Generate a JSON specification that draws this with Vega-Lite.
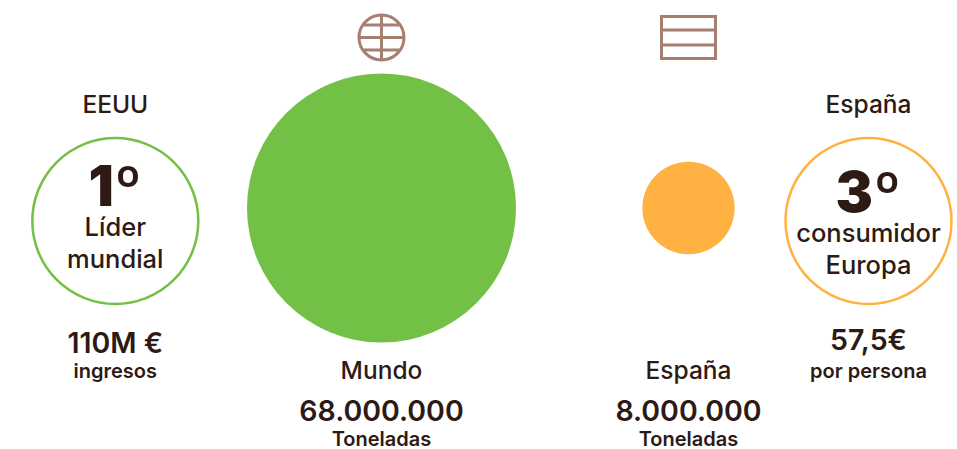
{
"$schema":"https://vega.github.io/schema/vega-lite/v6.json",
"width":957,"height":449,"autosize":{"type":"fit","contains":"padding"},"padding":0,
"background":"#ffffff",
"config":{"view":{"stroke":null},"text":{"font":"Inter","align":"center","baseline":"alphabetic","color":"#2E1A14"}},
"datasets":{
"circulos":[{"zona":"Mundo","columna":2,"fila":4,"toneladas":68000000},{"zona":"España","columna":3,"fila":4,"toneladas":8000000}],
"anillos":[{"zona":"EEUU","columna":1,"fila":6},{"zona":"España","columna":4,"fila":6}],
"iconos":[{"zona":"Mundo","columna":2,"fila":1},{"zona":"España","columna":3,"fila":1}],
"textos":[
{"rol":"titulo","columna":1,"fila":2,"texto":"EEUU"},
{"rol":"rango","columna":1,"fila":3,"texto":"1º"},
{"rol":"desc","columna":1,"fila":7,"texto":"Líder"},
{"rol":"desc","columna":1,"fila":9,"texto":"mundial"},
{"rol":"cifra","columna":1,"fila":12,"texto":"110M €"},
{"rol":"unidad","columna":1,"fila":13,"texto":"ingresos"},
{"rol":"titulo","columna":4,"fila":2,"texto":"España"},
{"rol":"rango","columna":4,"fila":5,"texto":"3º"},
{"rol":"desc","columna":4,"fila":8,"texto":"consumidor"},
{"rol":"desc","columna":4,"fila":10,"texto":"Europa"},
{"rol":"cifra","columna":4,"fila":11,"texto":"57,5€"},
{"rol":"unidad","columna":4,"fila":13,"texto":"por persona"},
{"rol":"titulo","columna":2,"fila":14,"texto":"Mundo"},
{"rol":"cifra","columna":2,"fila":15,"texto":"68.000.000"},
{"rol":"unidad","columna":2,"fila":16,"texto":"Toneladas"},
{"rol":"titulo","columna":3,"fila":14,"texto":"España"},
{"rol":"cifra","columna":3,"fila":15,"texto":"8.000.000"},
{"rol":"unidad","columna":3,"fila":16,"texto":"Toneladas"}
]},
"encoding":{
"x":{"field":"columna","type":"quantitative","axis":null,"scale":{"domain":[1,2,3,4],"range":[115.3,381.5,688.5,868.5]}},
"y":{"field":"fila","type":"quantitative","axis":null,"scale":{"domain":[1,2,3,4,5,6,7,8,9,10,11,12,13,14,15,16],"range":[37.5,113,206,208,212,221,236,242,268,274,350,353,377.5,379,420.5,446]}}
},
"layer":[
{"data":{"name":"circulos"},"mark":{"type":"point","filled":true,"opacity":1,"stroke":null},
 "encoding":{"size":{"field":"toneladas","type":"quantitative","legend":null,"scale":{"type":"linear","domain":[0,68000000],"range":[0,72361]}},
 "color":{"field":"zona","type":"nominal","legend":null,"scale":{"domain":["Mundo","España"],"range":["#72C045","#FFB141"]}}}},
{"data":{"name":"anillos"},"mark":{"type":"point","filled":false,"opacity":1,"strokeWidth":2.5,"size":27556},
 "encoding":{"stroke":{"field":"zona","type":"nominal","legend":null,"scale":{"domain":["EEUU","España"],"range":["#72C045","#FFB141"]}}}},
{"data":{"name":"iconos"},"transform":[{"filter":"datum.zona==='Mundo'"}],"mark":{"type":"point","filled":false,"opacity":1,"strokeWidth":3,"color":"#A67F71","size":2025,"shape":"M-1,0A1,1 0 1,1 1,0A1,1 0 1,1 -1,0ZM0,-1L0,1M-1,0L1,0M-.831,-.556L.831,-.556M-.831,.556L.831,.556"}},
{"data":{"name":"iconos"},"transform":[{"filter":"datum.zona==='España'"}],"mark":{"type":"point","filled":false,"opacity":1,"strokeWidth":3,"color":"#A67F71","size":2916,"shape":"M-1,-.778L1,-.778L1,.778L-1,.778ZM-1,-.278L1,-.278M-1,.278L1,.278"}},
{"data":{"name":"textos"},"transform":[{"filter":"datum.rol==='titulo'"}],"mark":{"type":"text","fontSize":24.5,"fontWeight":500},"encoding":{"text":{"field":"texto"}}},
{"data":{"name":"textos"},"transform":[{"filter":"datum.rol==='rango'"}],"mark":{"type":"text","fontSize":56,"fontWeight":900},"encoding":{"text":{"field":"texto"}}},
{"data":{"name":"textos"},"transform":[{"filter":"datum.rol==='desc'"}],"mark":{"type":"text","fontSize":25.5,"fontWeight":500},"encoding":{"text":{"field":"texto"}}},
{"data":{"name":"textos"},"transform":[{"filter":"datum.rol==='cifra'"}],"mark":{"type":"text","fontSize":28.5,"fontWeight":600},"encoding":{"text":{"field":"texto"}}},
{"data":{"name":"textos"},"transform":[{"filter":"datum.rol==='unidad'"}],"mark":{"type":"text","fontSize":20,"fontWeight":600},"encoding":{"text":{"field":"texto"}}}
]
}
